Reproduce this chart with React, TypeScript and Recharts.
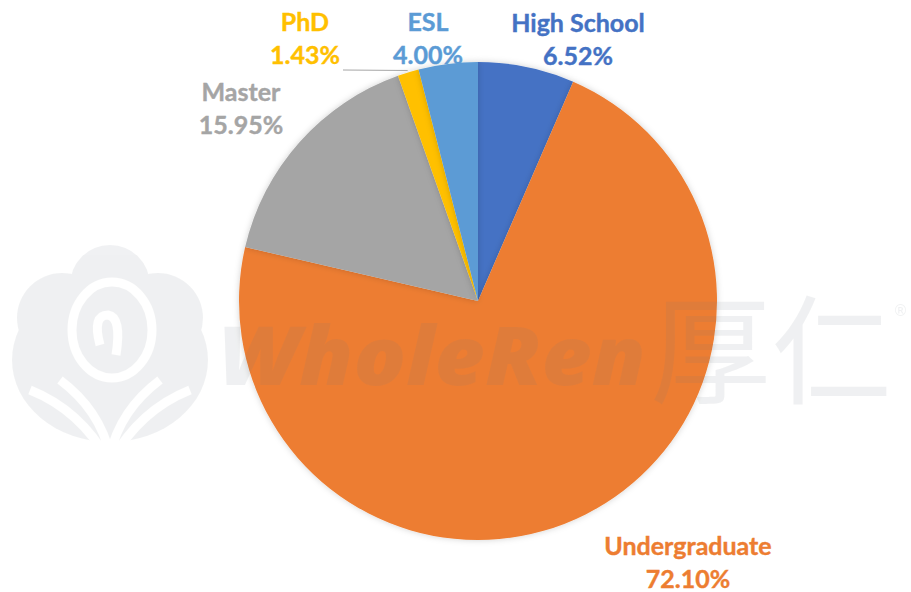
import React from 'react'
import { PieChart, Pie, Cell } from 'recharts'

const categories = ['High School', 'Undergraduate', 'Master', 'PhD', 'ESL']
const shares = [6.52, 72.1, 15.95, 1.43, 4.0]
const colors = ['#4472C4', '#ED7D31', '#A5A5A5', '#FFC000', '#5B9BD5']

const data = categories.map((name, i) => ({ name, value: shares[i] }))

// where Excel put each label (text centre, first line)
const labelSpots: Record<string, { x: number; y: number }> = {
  'High School': { x: 578, y: 22 },
  Undergraduate: { x: 688, y: 545 },
  Master: { x: 241, y: 91 },
  PhD: { x: 305, y: 21 },
  ESL: { x: 428, y: 21 },
}

const W = 911
const H = 592

function renderLabel(props: any) {
  const { name, value, index, cx, cy, midAngle, outerRadius } = props
  const spot = labelSpots[name]
  const color = colors[index]
  let leader = null
  if (name === 'PhD') {
    const rad = Math.PI / 180
    const ex = cx + (outerRadius + 2) * Math.cos(-midAngle * rad)
    const ey = cy + (outerRadius + 2) * Math.sin(-midAngle * rad)
    leader = <line x1={spot.x + 38} y1={spot.y + 49} x2={ex} y2={ey} stroke="#A6A6A6" strokeWidth={1} />
  }
  return (
    <g>
      {leader}
      <text
        x={spot.x}
        y={spot.y}
        textAnchor="middle"
        dominantBaseline="central"
        fill={color}
        fontFamily="Lato, 'Open Sans', sans-serif"
        fontWeight={700}
        fontSize={25}
        stroke={color}
        strokeWidth={0.4}
      >
        <tspan x={spot.x} dy={0}>{name}</tspan>
        <tspan x={spot.x} dy={33}>{value.toFixed(2)}%</tspan>
      </text>
    </g>
  )
}

function Watermark() {
  return (
    <svg width={W} height={H} style={{ position: 'absolute', left: 0, top: 0, pointerEvents: 'none' }}>
      <g opacity={0.1}>
        <g fill="#6f7a85">
          <circle cx={110} cy={285} r={40} />
          <circle cx={62} cy={318} r={45} />
          <circle cx={158} cy={318} r={45} />
          <ellipse cx={110} cy={360} rx={98} ry={82} />
        </g>
        <g fill="none" stroke="#fff" strokeWidth={9}>
          <ellipse cx={112} cy={330} rx={40} ry={48} />
          <path d="M100 345 q-8 -30 8 -30 q14 2 8 40" />
          <path d="M30 390 q50 20 78 70 M190 390 q-50 20 -78 70 M60 380 q40 30 50 75 M160 380 q-40 30 -50 75" />
        </g>
        <g fill="#6f7a85">
          <text
            x={218}
            y={385}
            fontFamily="'Open Sans', 'DejaVu Sans', sans-serif"
            fontWeight={800}
            fontStyle="italic"
            fontSize={82}
            textLength={428}
            lengthAdjust="spacingAndGlyphs"
          >
            WholeRen
          </text>
          <text
            x={650}
            y={395}
            fontFamily="'Noto Sans CJK SC', sans-serif"
            fontWeight={400}
            fontSize={118}
            textLength={242}
            lengthAdjust="spacingAndGlyphs"
          >
            厚仁
          </text>
          <text x={893} y={316} fontFamily="'DejaVu Sans', sans-serif" fontSize={15}>®</text>
        </g>
      </g>
    </svg>
  )
}

export default function App() {
  return (
    <div style={{ position: 'absolute', left: 0, top: 0, width: W, height: H, background: '#fff' }}>
      <PieChart width={W} height={H} margin={{ top: 0, right: 0, bottom: 0, left: 0 }}>
        <defs>
          <filter id="pieShadow" x="-10%" y="-10%" width="120%" height="120%">
            <feDropShadow dx={0} dy={0} stdDeviation={3} floodColor="#000" floodOpacity={0.18} />
          </filter>
        </defs>
        <Pie
          data={data}
          dataKey="value"
          nameKey="name"
          cx={478}
          cy={301}
          outerRadius={239}
          startAngle={90}
          endAngle={-270}
          stroke="none"
          label={renderLabel}
          labelLine={false}
          isAnimationActive={false}
          style={{ filter: 'url(#pieShadow)' }}
        >
          {data.map((d, i) => (
            <Cell key={d.name} fill={colors[i]} />
          ))}
        </Pie>
      </PieChart>
      <Watermark />
    </div>
  )
}
